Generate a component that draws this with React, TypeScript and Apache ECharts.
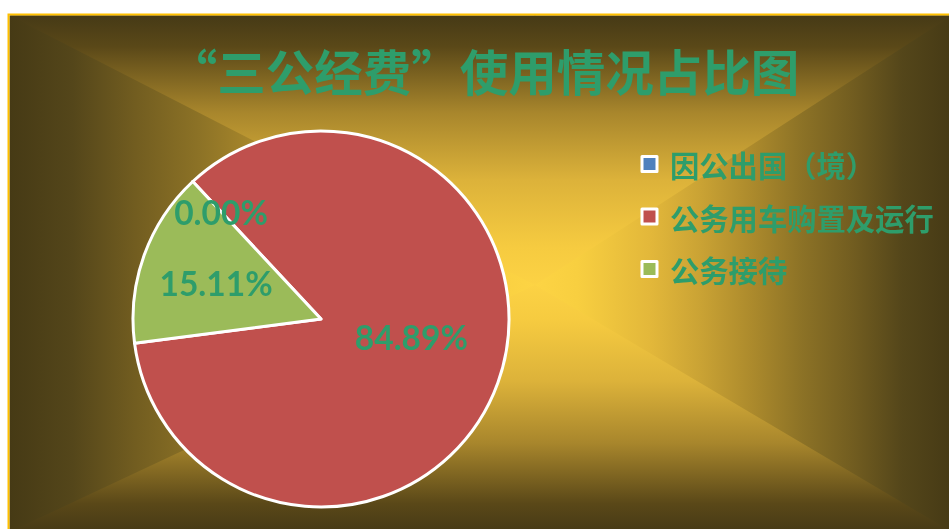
import React, { useEffect, useRef } from "react";
import * as echarts from "echarts";

// ---- data ----
const categories = ["因公出国（境）", "公务用车购置及运行", "公务接待"];
const shares = [0.0, 84.89, 15.11];
const sliceColors = ["#4F81BD", "#C0504D", "#9BBB59"];
const titleText = "“三公经费”使用情况占比图";

// ---- style / layout ----
const GREEN = "#2E9D6B";
const W = 949;
const H = 529;
const CX = 321;
const CY = 319;
const R = 188;
const START = 133;
const labelR = [0.78, 0.49, 0.59];
const labelShift = [0, 8.5, 0.9];

const BG = { l: 9.5, t: 15.5, r: 952, b: 532, cx: 535, cy: 285 };
const hStops = [
  { offset: 0, color: "#463a15" },
  { offset: 0.12, color: "#54461a" },
  { offset: 0.24, color: "#725d20" },
  { offset: 0.36, color: "#8c7226" },
  { offset: 0.48, color: "#ac8a2c" },
  { offset: 0.6, color: "#c9a234" },
  { offset: 0.72, color: "#e2b73a" },
  { offset: 0.9, color: "#f8cf40" },
  { offset: 1, color: "#fdd444" },
];
const vStops = [
  { offset: 0, color: "#463a16" },
  { offset: 0.115, color: "#5a4818" },
  { offset: 0.36, color: "#a8862c" },
  { offset: 0.61, color: "#dcb23a" },
  { offset: 0.86, color: "#f6cb40" },
  { offset: 1, color: "#fcd244" },
];

function grad(x: number, y: number, x2: number, y2: number, stops: any[]) {
  return { type: "linear", x, y, x2, y2, global: true, colorStops: stops };
}

export default function App() {
  const ref = useRef<HTMLDivElement>(null);
  useEffect(() => {
    if (!ref.current) return;
    const chart = echarts.init(ref.current, undefined, { renderer: "svg" });
    const total = shares.reduce((a, b) => a + b, 0);
    const { l, t, r, b, cx, cy } = BG;
    const option: any = {
      animation: false,
      graphic: [
        { type: "rect", z: -20, silent: true, shape: { x: l, y: t, width: cx - l + 1, height: b - t }, style: { fill: grad(l, 0, cx, 0, hStops) } },
        { type: "rect", z: -20, silent: true, shape: { x: cx - 1, y: t, width: r - cx + 1, height: b - t }, style: { fill: grad(r, 0, cx, 0, hStops) } },
        { type: "polygon", z: -10, silent: true, shape: { points: [[l, t], [r, t], [cx, cy]] }, style: { fill: grad(0, t, 0, cy, vStops) } },
        { type: "polygon", z: -10, silent: true, shape: { points: [[l, b], [r, b], [cx, cy]] }, style: { fill: grad(0, b, 0, cy, vStops) } },
        { type: "rect", z: -5, silent: true, shape: { x: 8.5, y: 14.5, width: 960, height: 530 }, style: { fill: "none", stroke: "#FFC000", lineWidth: 2 } },
        {
          type: "text", z: 10, silent: true, x: 484, y: 70,
          style: { text: titleText, align: "center", verticalAlign: "middle", fill: GREEN, font: "bold 48.5px 'Noto Sans CJK SC'" },
        },
      ],
      legend: {
        orient: "vertical",
        left: 640.5,
        top: 149,
        padding: 0,
        itemGap: 22.5,
        itemWidth: 15,
        itemHeight: 15,
        icon: "rect",
        selectedMode: false,
        itemStyle: { borderColor: "#fff", borderWidth: 3 },
        textStyle: { color: GREEN, fontSize: 29.3, fontWeight: "bold", fontFamily: "Noto Sans CJK SC", lineHeight: 30, padding: [0, 0, 0, 8] },
        data: categories,
      },
      series: [
        {
          type: "pie",
          center: [CX, CY],
          radius: [0, R],
          startAngle: START,
          clockwise: true,
          silent: true,
          percentPrecision: 2,
          data: categories.map((n, i) => ({ name: n, value: shares[i], itemStyle: { color: sliceColors[i] } })),
          itemStyle: { borderColor: "#fff", borderWidth: 3 },
          label: {
            show: true,
            position: "inside",
            formatter: (p: any) => Number(p.percent).toFixed(2) + "%",
            color: GREEN,
            fontSize: 33.5,
            fontWeight: "bold",
            fontFamily: "Lato",
            textBorderWidth: 0,
          },
          labelLine: { show: false },
          labelLayout: (p: any) => {
            const i = p.dataIndex;
            let before = 0;
            for (let k = 0; k < i; k++) before += shares[k];
            const mid = START - (360 * (before + shares[i] / 2)) / total + labelShift[i];
            const rad = (mid * Math.PI) / 180;
            const rr = R * labelR[i];
            return { x: CX + rr * Math.cos(rad), y: CY - rr * Math.sin(rad), align: "center", verticalAlign: "middle" };
          },
          emphasis: { disabled: true },
        },
      ],
    };
    chart.setOption(option);
    return () => chart.dispose();
  }, []);
  return <div ref={ref} style={{ position: "fixed", left: 0, top: 0, width: W, height: H }} />;
}
